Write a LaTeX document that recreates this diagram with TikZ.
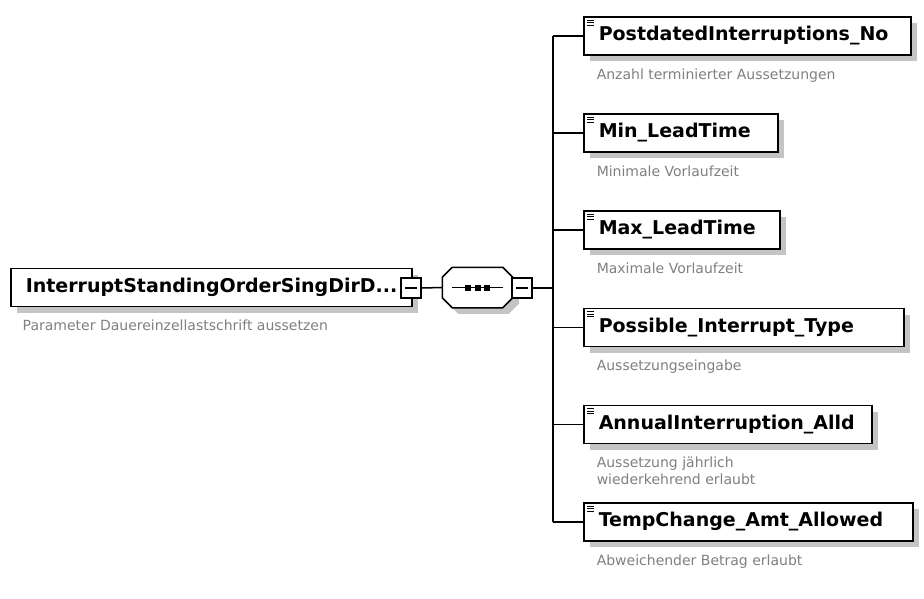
\documentclass[tikz,border=0pt]{standalone}
\usepackage{fontspec}
\setmainfont{DejaVu Sans}
\usetikzlibrary{positioning,shadows}

\definecolor{descgray}{HTML}{808080}
\definecolor{shadowgray}{HTML}{C4C4C4}

\begin{document}
\begin{tikzpicture}[
    x=1pt, y=-1pt,
    line width=1.5pt,
    boxshadow/.style={drop shadow={shadow xshift=6pt, shadow yshift=-6pt, fill=shadowgray, opacity=1}},
    elem/.style={draw, fill=white, line width=1.5pt, anchor=west,
        minimum height=38pt, inner xsep=4pt, inner ysep=0pt, align=left,
        font=\bfseries\fontsize{19}{22}\selectfont,
        execute at begin node={\hyphenpenalty=10000\hspace*{11pt}}, boxshadow},
    desc/.style={inner sep=0pt, align=left, text=descgray,
        font=\fontsize{14}{17}\selectfont},
    minusbox/.style={draw, fill=white, line width=1.4pt, minimum size=20pt, inner sep=0pt,
        path picture={\draw[line width=1.3pt]
            ([xshift=-6pt]path picture bounding box.center) --
            ([xshift=6pt]path picture bounding box.center);}},
    seqbox/.style={minimum width=69pt, minimum height=39pt, inner sep=0pt},
]

    \path[use as bounding box, fill=white] (0,0) rectangle (924,598);

    % root element and its sequence
    \node[elem, text width=393pt] (root) at (10,287.5) {InterruptStandingOrderSingDirD...};
    \node[desc, below=12pt of root.south west, anchor=north west, xshift=12pt] (rootdesc)
        {Parameter Dauereinzellastschrift aussetzen};
    \node[minusbox] (rootminus) at (411,288) {};

    \node[seqbox] (seq) at (477.5,287.5) {};
    \draw[fill=white, boxshadow]
        ([xshift=10pt]seq.north west) -- ([xshift=-10pt]seq.north east)
        -- ([yshift=-10pt]seq.north east) -- ([yshift=10pt]seq.south east)
        -- ([xshift=-10pt]seq.south east) -- ([xshift=10pt]seq.south west)
        -- ([yshift=10pt]seq.south west) -- ([yshift=-10pt]seq.north west) -- cycle;
    \node[minusbox] (seqminus) at (522,288) {};
    \coordinate (spine) at (553,288);

    % child elements
    \node[elem, text width=319pt] (postdated) at (583,36) {PostdatedInterruptions\_No};
    \node[elem, text width=186pt] (minlead) at (583,133) {Min\_LeadTime};
    \node[elem, text width=188pt] (maxlead) at (583,230) {Max\_LeadTime};
    \node[elem, text width=312pt] (possible) at (583,327.5) {Possible\_Interrupt\_Type};
    \node[elem, text width=280pt] (annual) at (583,424.5) {AnnualInterruption\_Alld};
    \node[elem, text width=321pt] (tempchange) at (583,522) {TempChange\_Amt\_Allowed};

    \node[desc, below=12pt of postdated.south west, anchor=north west, xshift=13pt] (postdateddesc)
        {Anzahl terminierter Aussetzungen};
    \node[desc, below=12pt of minlead.south west, anchor=north west, xshift=13pt] (minleaddesc)
        {Minimale Vorlaufzeit};
    \node[desc, below=12pt of maxlead.south west, anchor=north west, xshift=13pt] (maxleaddesc)
        {Maximale Vorlaufzeit};
    \node[desc, below=12pt of possible.south west, anchor=north west, xshift=13pt] (possibledesc)
        {Aussetzungseingabe};
    \node[desc, below=12pt of annual.south west, anchor=north west, xshift=13pt] (annualdesc)
        {Aussetzung jährlich\\wiederkehrend erlaubt};
    \node[desc, below=12pt of tempchange.south west, anchor=north west, xshift=13pt] (tempchangedesc)
        {Abweichender Betrag erlaubt};

    % sequence dots
    \draw ([xshift=10pt]seq.west) -- ([xshift=-10pt]seq.east);
    \foreach \dx in {-9.5,0,9.5}
        \fill ([xshift=\dx pt]seq.center) ++(-3,-3) rectangle ++(6,6);

    % connectors
    \draw (rootminus.east) -- (seq.west);
    \draw (seqminus.east) -- (spine);
    \draw (spine |- postdated.west) -- (spine |- tempchange.west);
    \foreach \n in {postdated,minlead,maxlead,possible,annual,tempchange} {
        \draw (spine |- \n.west) -- (\n.west);
        % element icon
        \foreach \k in {0,2.5,5}
            \draw[line width=0.8pt] ([shift={(4,4+\k)}]\n.north west) -- ++(7,0);
    }

\end{tikzpicture}
\end{document}
